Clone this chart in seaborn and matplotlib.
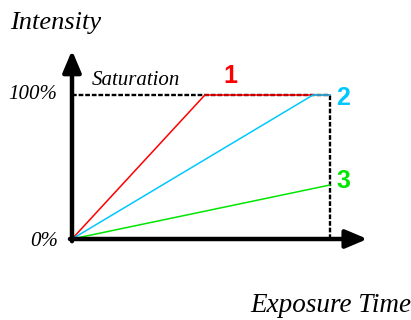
import matplotlib
matplotlib.use("Agg")
import matplotlib.pyplot as plt
import seaborn as sns
import pandas as pd

# exposure time (fraction of full exposure) and intensity (%)
time_1 = [0.0, 0.515, 1.0]
intensity_1 = [0, 100, 100]
time_2 = [0.0, 0.934, 1.0]
intensity_2 = [0, 100, 100]
time_3 = [0.0, 1.0]
intensity_3 = [0, 37.5]

series_labels = ["1", "2", "3"]
series_colors = ["#ff0000", "#00c8ff", "#00e600"]

df = pd.concat([
    pd.DataFrame({"time": time_1, "intensity": intensity_1, "curve": "1"}),
    pd.DataFrame({"time": time_2, "intensity": intensity_2, "curve": "2"}),
    pd.DataFrame({"time": time_3, "intensity": intensity_3, "curve": "3"}),
])

sns.set_style("white")
fig = plt.figure(figsize=(4.11, 3.20), dpi=100)
ax = fig.add_axes([0, 0, 1, 1])
ax.set_xlim(-72 / 258, 339 / 258)
ax.set_ylim(-81 / 1.44, 239 / 1.44)
ax.axis("off")

# saturation guides
ax.plot([0, 1], [100, 100], color="black", lw=1.7, ls=(0, (2, 0.8)), zorder=1)
ax.plot([1, 1], [0, 100], color="black", lw=1.7, ls=(0, (2, 0.8)), zorder=1)

sns.lineplot(data=df, x="time", y="intensity", hue="curve", palette=series_colors,
             legend=False, ax=ax, lw=1.1, estimator=None, sort=False, zorder=3)

# axes with arrows
arrow = dict(arrowstyle="-|>,head_length=1.3,head_width=0.55", color="black", lw=3.2,
             shrinkA=0, shrinkB=0)
ax.annotate("", xy=(1.145, 0), xytext=(-0.008, 0), arrowprops=arrow, zorder=4)
ax.annotate("", xy=(0, 131), xytext=(0, -1.5), arrowprops=arrow, zorder=4)

serif = dict(family="Liberation Serif", style="italic", color="black", va="baseline")
ax.text(-0.24, 145.8, "Intensity", fontsize=19, ha="left", **serif)
ax.text(-0.248, 97.2, "100%", fontsize=15, ha="left", **serif)
ax.text(-0.163, -4.9, "0%", fontsize=15, ha="left", **serif)
ax.text(0.078, 106.9, "Saturation", fontsize=15, ha="left", **serif)
ax.text(1.316, -50.5, "Exposure Time", fontsize=19.5, ha="right", **serif)

label_pos = [(0.612, 108.3), (1.052, 93.1), (1.052, 35.4)]
for lab, (lx, ly), col in zip(series_labels, label_pos, series_colors):
    ax.text(lx, ly, lab, fontsize=18, fontweight="bold", family="Liberation Sans",
            color=col, ha="center", va="baseline")

fig.savefig("out.png", dpi=100)
